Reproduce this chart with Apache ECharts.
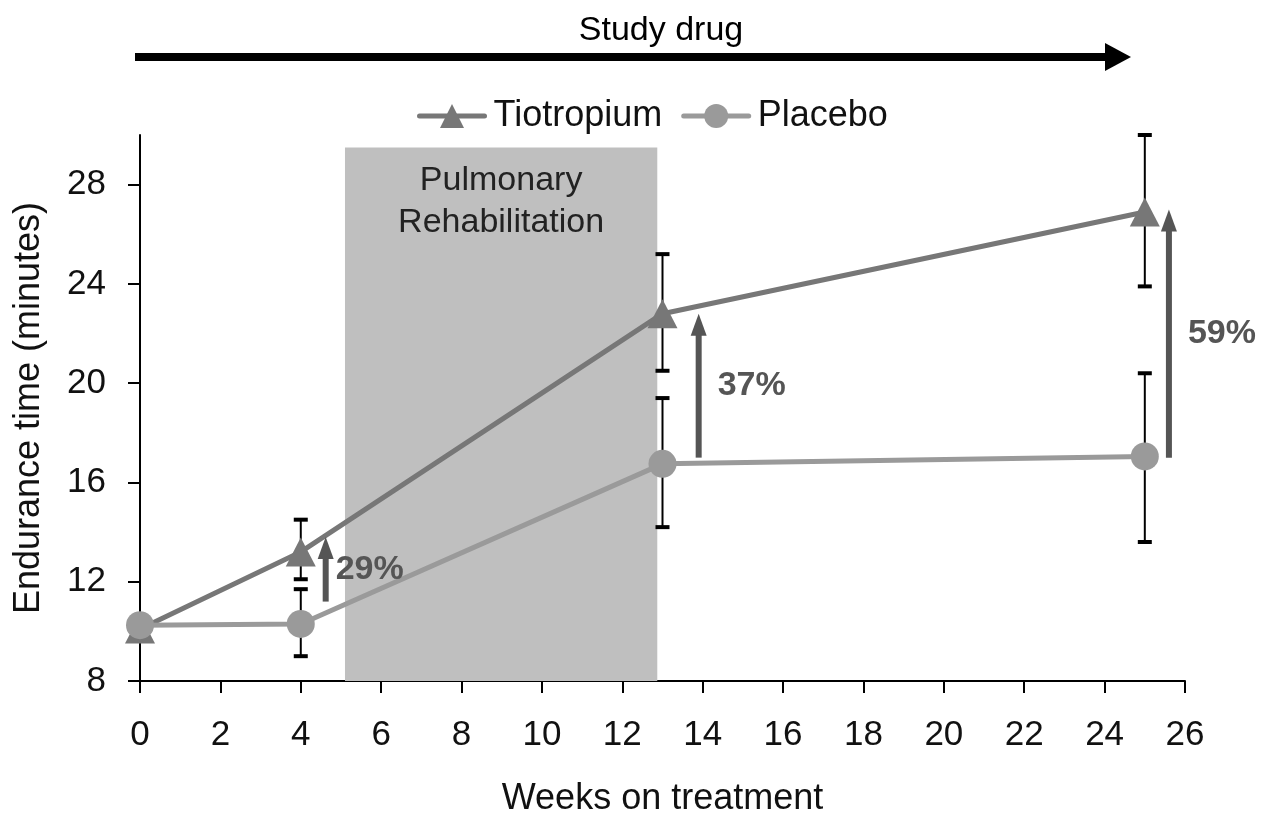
<!DOCTYPE html>
<html>
<head>
<meta charset="utf-8">
<script src="https://cdn.jsdelivr.net/npm/echarts@6/dist/echarts.min.js"></script>
<style>
  html, body { margin: 0; padding: 0; background: #fff; }
  #chart { width: 1266px; height: 817px; }
</style>
</head>
<body>
<div id="chart"></div>
<script>
var weeks = [0, 4, 13, 25];
var tioValues = [10.1, 13.2, 22.8, 26.9];
var tioLow = [null, 12.1, 20.5, 23.9];
var tioHigh = [null, 14.5, 25.2, 30.0];
var placeboValues = [10.25, 10.3, 16.75, 17.05];
var placeboLow = [null, 9.0, 14.2, 13.6];
var placeboHigh = [null, 11.7, 19.4, 20.4];

var rehabRange = [5.1, 12.87];
var rehabTop = 29.5;

var arrowX = [4.62, 13.9, 25.6];
var arrowFrom = [11.2, 17.0, 17.0];
var arrowTo = [13.8, 22.8, 27.0];
var arrowLabels = ['29%', '37%', '59%'];

var yTicks = [8, 12, 16, 20, 24, 28];

var font = '"Liberation Sans", Arial, sans-serif';

function pairs(xs, ys) {
    return xs.map(function (x, i) { return [x, ys[i]]; });
}

function errorData(lows, highs) {
    var out = [];
    weeks.forEach(function (w, i) {
        if (lows[i] != null) out.push([w, lows[i], highs[i]]);
    });
    return out;
}

// vertical error bar with flat caps
function renderError(params, api) {
    var lo = api.coord([api.value(0), api.value(1)]);
    var hi = api.coord([api.value(0), api.value(2)]);
    var cap = 7;
    var style = { stroke: '#000', lineWidth: 2 };
    var capStyle = { stroke: '#000', lineWidth: 4 };
    return {
        type: 'group',
        children: [
            { type: 'line', shape: { x1: lo[0], y1: lo[1], x2: hi[0], y2: hi[1] }, style: style },
            { type: 'line', shape: { x1: lo[0] - cap, y1: lo[1], x2: lo[0] + cap, y2: lo[1] }, style: capStyle },
            { type: 'line', shape: { x1: hi[0] - cap, y1: hi[1], x2: hi[0] + cap, y2: hi[1] }, style: capStyle }
        ]
    };
}

// difference arrows with percent label
function renderArrow(params, api) {
    var i = params.dataIndex;
    var p0 = api.coord([api.value(0), api.value(1)]);
    var p1 = api.coord([api.value(0), api.value(2)]);
    var head = 22, hw = 8;
    var mid = api.coord([api.value(0), (api.value(1) + api.value(2)) / 2]);
    var dx = i === 0 ? 10 : 19;
    return {
        type: 'group',
        children: [
            { type: 'line', shape: { x1: p0[0], y1: p0[1], x2: p1[0], y2: p1[1] + head - 2 },
              style: { stroke: '#555', lineWidth: 6 } },
            { type: 'polygon', shape: { points: [[p1[0] - hw, p1[1] + head], [p1[0], p1[1]], [p1[0] + hw, p1[1] + head]] },
              style: { fill: '#555' } },
            { type: 'text', x: p0[0] + dx, y: mid[1],
              style: { text: arrowLabels[i], fill: '#555', font: 'bold 34px ' + font, textVerticalAlign: 'middle', textAlign: 'left' } }
        ]
    };
}

var chart = echarts.init(document.getElementById('chart'));
var option = {
    backgroundColor: '#fff',
    animation: false,
    textStyle: { fontFamily: font },
    legend: {
        top: 93,
        left: 412,
        itemWidth: 65,
        itemHeight: 30,
        itemGap: 19,
        lineStyle: { width: 5, cap: 'round' },
        textStyle: { fontSize: 36, color: '#111', fontFamily: font, padding: [0, 0, 0, 4] },
        data: ['Tiotropium', 'Placebo']
    },
    grid: { left: 140, right: 81, top: 135, bottom: 136, containLabel: false, outerBoundsMode: 'none' },
    xAxis: {
        type: 'value',
        min: 0, max: 26, interval: 2,
        name: 'Weeks on treatment',
        nameLocation: 'middle',
        nameGap: 100,
        nameTextStyle: { fontSize: 36, color: '#111' },
        axisLine: { lineStyle: { color: '#000', width: 2 } },
        axisTick: { length: 12, lineStyle: { color: '#000', width: 2 } },
        axisLabel: { fontSize: 35, color: '#111', margin: 37 },
        splitLine: { show: false }
    },
    yAxis: {
        type: 'value',
        min: 8, max: 30, interval: 4,
        name: 'Endurance time (minutes)',
        nameLocation: 'middle',
        nameGap: 93,
        nameTextStyle: { fontSize: 36, color: '#111' },
        axisLine: { show: true, lineStyle: { color: '#000', width: 2 } },
        axisTick: { show: true, length: 12, customValues: yTicks, lineStyle: { color: '#000', width: 2 } },
        axisLabel: { fontSize: 35, color: '#111', margin: 34, customValues: yTicks },
        splitLine: { show: false }
    },
    graphic: [
        { type: 'line', shape: { x1: 135, y1: 57, x2: 1108, y2: 57 }, style: { stroke: '#000', lineWidth: 8 } },
        { type: 'polygon', shape: { points: [[1105, 43], [1131, 57], [1105, 71]] }, style: { fill: '#000' } },
        { type: 'text', x: 661, y: 31, style: { text: 'Study drug', font: '34px ' + font, fill: '#000', textAlign: 'center', textVerticalAlign: 'middle' } }
    ],
    series: [
        {
            name: 'rehab',
            type: 'line',
            data: [],
            z: 0,
            markArea: {
                silent: true,
                itemStyle: { color: '#bfbfbf' },
                label: {
                    show: true, position: 'insideTop', distance: 12,
                    fontSize: 34, color: '#222', lineHeight: 42, fontFamily: font
                },
                data: [[
                    { name: 'Pulmonary\nRehabilitation', coord: [rehabRange[0], 8] },
                    { coord: [rehabRange[1], rehabTop] }
                ]]
            }
        },
        {
            name: 'tioError',
            type: 'custom',
            z: 1,
            renderItem: renderError,
            data: errorData(tioLow, tioHigh)
        },
        {
            name: 'placeboError',
            type: 'custom',
            z: 1,
            renderItem: renderError,
            data: errorData(placeboLow, placeboHigh)
        },
        {
            name: 'Tiotropium',
            type: 'line',
            z: 3,
            data: pairs(weeks, tioValues),
            symbol: 'triangle',
            symbolSize: [30, 29],
            lineStyle: { color: '#777', width: 5 },
            itemStyle: { color: '#777' }
        },
        {
            name: 'Placebo',
            type: 'line',
            z: 4,
            data: pairs(weeks, placeboValues),
            symbol: 'circle',
            symbolSize: 28,
            lineStyle: { color: '#9a9a9a', width: 5 },
            itemStyle: { color: '#9a9a9a' }
        },
        {
            name: 'arrows',
            type: 'custom',
            z: 5,
            renderItem: renderArrow,
            data: arrowX.map(function (x, i) { return [x, arrowFrom[i], arrowTo[i]]; })
        }
    ]
};
chart.setOption(option);
</script>
</body>
</html>
